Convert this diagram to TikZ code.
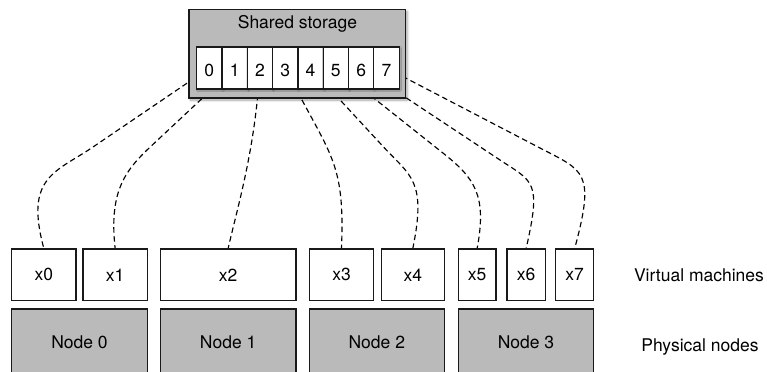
\documentclass[tikz,border=0pt]{standalone}
\usepackage{fontspec}
\setmainfont{TeX Gyre Heros}
\usetikzlibrary{shadows.blur}
\pgfdeclarelayer{background}
\pgfsetlayers{background,main}
\definecolor{boxgray}{RGB}{186,186,186}
\definecolor{edge}{RGB}{25,25,25}

\tikzset{
  box/.style={draw=edge, line width=1.2bp, inner sep=0pt, align=center},
  vm/.style={box, fill=white, minimum height=51.7bp},
  phys/.style={box, fill=boxgray, minimum height=67bp},
  softshadow/.style={blur shadow={shadow xshift=1.5bp, shadow yshift=-2bp,
      shadow blur radius=2.5bp, shadow blur steps=6, shadow opacity=35}},
  store/.style={box, fill=boxgray, minimum width=216.7bp, minimum height=88.5bp, softshadow},
  cell/.style={box, fill=white, minimum width=25.3bp, minimum height=42bp,
      text height=16bp, text depth=0pt,
      blur shadow={shadow xshift=1bp, shadow yshift=-1bp, shadow blur radius=1.5bp,
      shadow blur steps=4, shadow opacity=25}},
  link/.style={draw=black, line width=1.15bp, dash pattern=on 5.5bp off 3.5bp},
  caption/.style={anchor=base, inner sep=0pt}
}

\begin{document}
\begin{tikzpicture}[x=1bp, y=-1bp, font=\fontsize{17.5bp}{21bp}\selectfont]
\useasboundingbox (0,0) rectangle (767,371);

% shared storage with its eight slots
\node[store] (storage) at (297.35,53.75) {};
\node[caption] (title) at (297.4,28.3) {Shared storage};
\foreach \i in {0,...,7}
  \node[cell] (c\i) at ({209.35+25.3*\i},68) {\i};

% virtual machines
\node[vm, minimum width=64.3bp] (v0) at (43.85,274.85) {x0};
\node[vm, minimum width=64.3bp] (v1) at (115.15,274.85) {x1};
\node[vm, minimum width=135.7bp] (v2) at (228.15,274.85) {x2};
\node[vm, minimum width=64.4bp] (v3) at (341.5,274.85) {x3};
\node[vm, minimum width=63bp] (v4) at (412.8,274.85) {x4};
\node[vm, minimum width=37.7bp] (v5) at (477.15,274.85) {x5};
\node[vm, minimum width=38.3bp] (v6) at (526.15,274.85) {x6};
\node[vm, minimum width=38bp] (v7) at (574.7,274.85) {x7};

% physical nodes
\node[phys, minimum width=135.6bp] (n0) at (79.5,342.5) {Node 0};
\node[phys, minimum width=135.7bp] (n1) at (228.15,342.5) {Node 1};
\node[phys, minimum width=135bp] (n2) at (376.8,342.5) {Node 2};
\node[phys, minimum width=135.4bp] (n3) at (526,342.5) {Node 3};

% row captions
\node[caption] (vmlabel) at (699,281.7) {Virtual machines};
\node[caption] (pnlabel) at (700,351) {Physical nodes};

% slot-to-machine mapping, passing behind the storage box
\begin{pgfonlayer}{background}
\draw[link] (c0.center) -- (93,147) .. controls (55.8,172.3) and (24.3,176.6) .. (v0.north);
\draw[link] (c1.center) -- (152,145.3) .. controls (126.4,169.2) and (108.6,189.6) .. (v1.north);
\draw[link] (c2.center) .. controls (255,150) and (238,205) .. (v2.north);
\draw[link] (c3.center) .. controls (330.2,157) and (345,159) .. (v3.north);
\draw[link] (c4.center) -- (383.3,146.7) .. controls (410.5,176.1) and (426.8,180.4) .. (v4.north);
\draw[link] (c5.center) -- (443.3,153.3) .. controls (474.6,178.2) and (487.1,195.1) .. (v5.north);
\draw[link] (c6.center) -- (500,160) .. controls (533.4,182.1) and (541.6,180.75) .. (v6.north);
\draw[link] (c7.center) -- (540,148) .. controls (584.4,171.05) and (595.4,171.7) .. (v7.north);
\end{pgfonlayer}
\end{tikzpicture}
\end{document}
